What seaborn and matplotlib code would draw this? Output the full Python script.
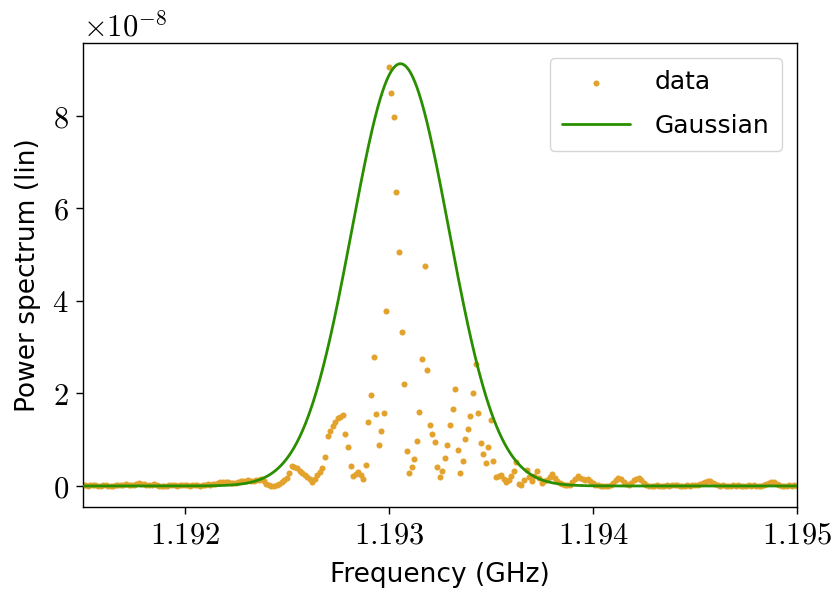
import numpy as np
import pandas as pd
import seaborn as sns
import matplotlib
matplotlib.use("Agg")
import matplotlib.pyplot as plt
from matplotlib.ticker import FuncFormatter

# frequency grid of the measurement (GHz), 12.5 kHz step
f_start = 1.1915
f_stop = 1.195
n_points = 281

# measured power spectrum, in units of 1e-8
base_left = [0.02, 0.03, 0.01, 0.02, 0.03, 0.02, 0.00, 0.01, 0.02, 0.02,
             0.01, 0.00, 0.01, 0.02, 0.03, 0.02, 0.03, 0.04, 0.03, 0.02,
             0.03, 0.05, 0.06, 0.05, 0.04, 0.03, 0.02, 0.03, 0.04, 0.02,
             0.01, 0.00, 0.00, 0.01, 0.02, 0.03, 0.02, 0.01, 0.02, 0.03,
             0.03, 0.02, 0.01, 0.02, 0.03, 0.02, 0.01, 0.02, 0.03, 0.04,
             0.03, 0.04, 0.05, 0.07, 0.08, 0.09, 0.08, 0.09, 0.07, 0.06,
             0.07, 0.08, 0.10, 0.11, 0.10, 0.12, 0.11, 0.10, 0.12, 0.13]
rise = [0.14, 0.10, 0.04, 0.02, 0.00, 0.01, 0.02, 0.05, 0.09, 0.12, 0.17, 0.27,
        0.43, 0.41, 0.38, 0.33, 0.29, 0.24, 0.20, 0.15, 0.08,
        0.15, 0.24, 0.31, 0.38, 0.63, 1.07, 1.18, 1.30, 1.39, 1.46, 1.50, 1.53,
        1.13, 0.84, 0.43, 0.22, 0.26, 0.30, 0.24, 0.15, 0.46, 1.38, 1.96, 2.78,
        1.56, 0.89, 1.18, 1.58, 3.78]
peak = [9.07, 8.50, 7.98, 6.36, 5.06, 3.34, 2.21, 0.76, 0.27, 0.40, 0.59, 0.97,
        1.60, 2.75, 4.76, 2.50, 1.32, 1.12, 0.96, 0.42, 0.19, 0.33, 0.60, 0.89,
        1.31, 1.66, 2.09, 0.77, 0.29, 0.54, 1.02, 1.24, 1.51, 2.01, 2.64, 1.58,
        0.94, 0.69, 0.50, 0.85, 1.43]
fall = [0.53, 0.20, 0.22, 0.23, 0.15, 0.08, 0.13, 0.22, 0.33, 0.51, 0.04, 0.03,
        0.12, 0.35, 0.20, 0.11, 0.22, 0.33, 0.17, 0.07, 0.10, 0.13, 0.20, 0.26,
        0.17, 0.10, 0.07, 0.04, 0.03, 0.02, 0.03, 0.08, 0.16, 0.22, 0.18, 0.14,
        0.12, 0.15, 0.10]
base_right = [0.06, 0.03, 0.02, 0.01, 0.01, 0.00, 0.01, 0.03, 0.07, 0.12,
              0.17, 0.14, 0.09, 0.05, 0.03, 0.06, 0.12, 0.16, 0.18, 0.12,
              0.06, 0.02, 0.01, 0.00, 0.01, 0.02, 0.01, 0.00, 0.01, 0.02,
              0.01, 0.02, 0.03, 0.02, 0.01, 0.00, 0.01, 0.02, 0.01, 0.02,
              0.03, 0.02, 0.04, 0.07, 0.09, 0.11, 0.10, 0.07, 0.04, 0.02,
              0.01, 0.02, 0.01, 0.00, 0.01, 0.02, 0.01, 0.02, 0.01, 0.00,
              0.01, 0.02, 0.01, 0.02, 0.01, 0.00, 0.01, 0.02, 0.04, 0.07,
              0.09, 0.08, 0.05, 0.02, 0.01, 0.00, 0.01, 0.02, 0.01, 0.02, 0.01]

# fitted Gaussian parameters
g_amp = 9.13      # 1e-8
g_center = 1.193057
g_sigma = 0.000238

scale = 1e-8
freq = np.linspace(f_start, f_stop, n_points)
power = np.array(base_left + rise + peak + fall + base_right) * scale
df = pd.DataFrame({"freq": freq, "power": power})

f_fit = np.linspace(f_start, f_stop, 800)
fit = pd.DataFrame({"freq": f_fit,
                    "power": g_amp * scale * np.exp(-0.5 * ((f_fit - g_center) / g_sigma) ** 2)})

sns.set_style("ticks")
plt.rcParams["font.family"] = ["DejaVu Sans"]
plt.rcParams["mathtext.fontset"] = "cm"
for k in ["text.color", "axes.labelcolor", "xtick.color", "ytick.color", "axes.edgecolor"]:
    plt.rcParams[k] = "black"

fig = plt.figure(figsize=(8.35, 5.92), dpi=100)
ax = fig.add_axes([0.099, 0.1441, 0.8555, 0.7838])

sns.scatterplot(data=df, x="freq", y="power", ax=ax, color="#e3a22c",
                s=19, linewidth=0, label="data", zorder=2)
sns.lineplot(data=fit, x="freq", y="power", ax=ax, color="#2a8f00",
             linewidth=2.0, label="Gaussian", sort=False, zorder=3)

ax.set_xlim(f_start, f_stop)
ax.set_ylim(-0.448 * scale, 9.585 * scale)
ax.set_xticks([1.192, 1.193, 1.194, 1.195])
ax.set_yticks(np.array([0, 2, 4, 6, 8]) * scale)
ax.xaxis.set_major_formatter(FuncFormatter(lambda v, p: r"$%.3f$" % v))
ax.yaxis.set_major_formatter(FuncFormatter(lambda v, p: r"$%d$" % round(v / scale)))
ax.tick_params(labelsize=22, length=5, width=1.0, color="black", pad=5)
for s in ax.spines.values():
    s.set_visible(True)
    s.set_color("black")
    s.set_linewidth(1.0)

ax.text(0.0, 1.0, r"$\times10^{-8}$", transform=ax.transAxes,
        fontsize=22, ha="left", va="bottom")

ax.set_xlabel("Frequency (GHz)", fontsize=19, labelpad=9)
ax.set_ylabel("Power spectrum (lin)", fontsize=19, labelpad=8)

leg = ax.legend(loc="upper right", fontsize=18, frameon=True, fancybox=True,
                borderpad=0.5, labelspacing=0.8, handlelength=2.7,
                handletextpad=1.0, borderaxespad=0.6)
leg.get_frame().set_edgecolor("#cccccc")

fig.savefig("out.png", dpi=100)
